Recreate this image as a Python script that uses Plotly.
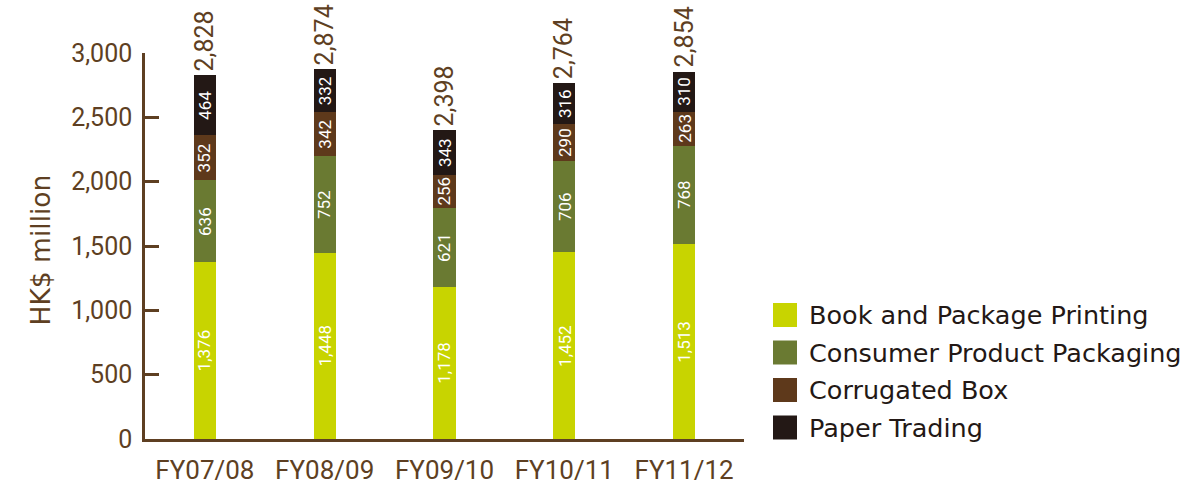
import plotly.graph_objects as go

# Revenue by business segment, HK$ million
years = ["FY07/08", "FY08/09", "FY09/10", "FY10/11", "FY11/12"]
book_printing = [1376, 1448, 1178, 1452, 1513]
consumer_packaging = [636, 752, 621, 706, 768]
corrugated_box = [352, 342, 256, 290, 263]
paper_trading = [464, 332, 343, 316, 310]
totals = [2828, 2874, 2398, 2764, 2854]

series = [
    ("Book and Package Printing", book_printing, "#c8d400"),
    ("Consumer Product Packaging", consumer_packaging, "#6a7a32"),
    ("Corrugated Box", corrugated_box, "#5e391b"),
    ("Paper Trading", paper_trading, "#231815"),
]

BROWN = "#5e3f22"
FONT = "Roboto"
WIDE_FONT = "DejaVu Sans"

W, H = 1198, 484
L, R, T, B = 145, 454, 53, 45
plot_w = W - L - R
plot_h = H - T - B

fig = go.Figure()
annotations = []
base = [0] * len(years)
for name, vals, color in series:
    fig.add_trace(go.Bar(
        name=name, x=years, y=vals, marker=dict(color=color, line=dict(width=0)),
        width=0.185, showlegend=False, cliponaxis=False,
    ))
    for i, v in enumerate(vals):
        annotations.append(dict(
            x=years[i], y=base[i] + v / 2, xref="x", yref="y",
            text=f"{v:,}", textangle=-90, showarrow=False,
            font=dict(family=FONT, size=17, color="#ffffff"),
        ))
        base[i] += v

# Totals above each stack
for i, t in enumerate(totals):
    annotations.append(dict(
        x=years[i], y=t, xref="x", yref="y", text=f"{t:,}", textangle=-90,
        showarrow=False, yanchor="bottom", yshift=2,
        font=dict(family=FONT, size=25, color=BROWN),
    ))

# Axis title
annotations.append(dict(
    x=(22 - L) / plot_w, y=(439 - 250) / plot_h, xref="paper", yref="paper",
    text="HK$ million", textangle=-90, showarrow=False,
    font=dict(family=WIDE_FONT, size=26.5, color=BROWN),
))

# Legend drawn as swatches and labels
shapes = []
row_y = [315, 352.5, 390, 427.5]
for (name, vals, color), ry in zip(series, row_y):
    y0 = (439 - (ry + 12)) / plot_h
    y1 = (439 - (ry - 12)) / plot_h
    shapes.append(dict(
        type="rect", xref="paper", yref="paper",
        x0=(773 - L) / plot_w, x1=(797 - L) / plot_w, y0=y0, y1=y1,
        fillcolor=color, line=dict(width=0),
    ))
    annotations.append(dict(
        x=(807 - L) / plot_w, y=(439 - ry) / plot_h, xref="paper", yref="paper",
        text=name, showarrow=False, xanchor="left", yanchor="middle",
        font=dict(family=WIDE_FONT, size=25.5, color="#231815"),
    ))

fig.update_layout(
    barmode="stack",
    width=W, height=H,
    margin=dict(l=L, r=R, t=T, b=B, pad=0, autoexpand=False),
    paper_bgcolor="white", plot_bgcolor="white",
    annotations=annotations, shapes=shapes,
    font=dict(family=FONT, color=BROWN),
)
fig.update_xaxes(
    showgrid=False, showline=True, linecolor=BROWN, linewidth=2.5,
    ticks="", tickfont=dict(family=FONT, size=26, color=BROWN),
    ticklabelstandoff=6, automargin=False,
    range=[-0.5, 4.5],
)
fig.update_yaxes(
    range=[0, 3000], tickvals=[0, 500, 1000, 1500, 2000, 2500, 3000],
    tickformat=",", showgrid=False, zeroline=False,
    showline=True, linecolor=BROWN, linewidth=2.5,
    ticks="inside", ticklen=14, tickwidth=2.5, tickcolor=BROWN,
    ticklabelstandoff=5, automargin=False,
    tickfont=dict(family=FONT, size=25, color=BROWN),
)

fig.write_html("out.html")
